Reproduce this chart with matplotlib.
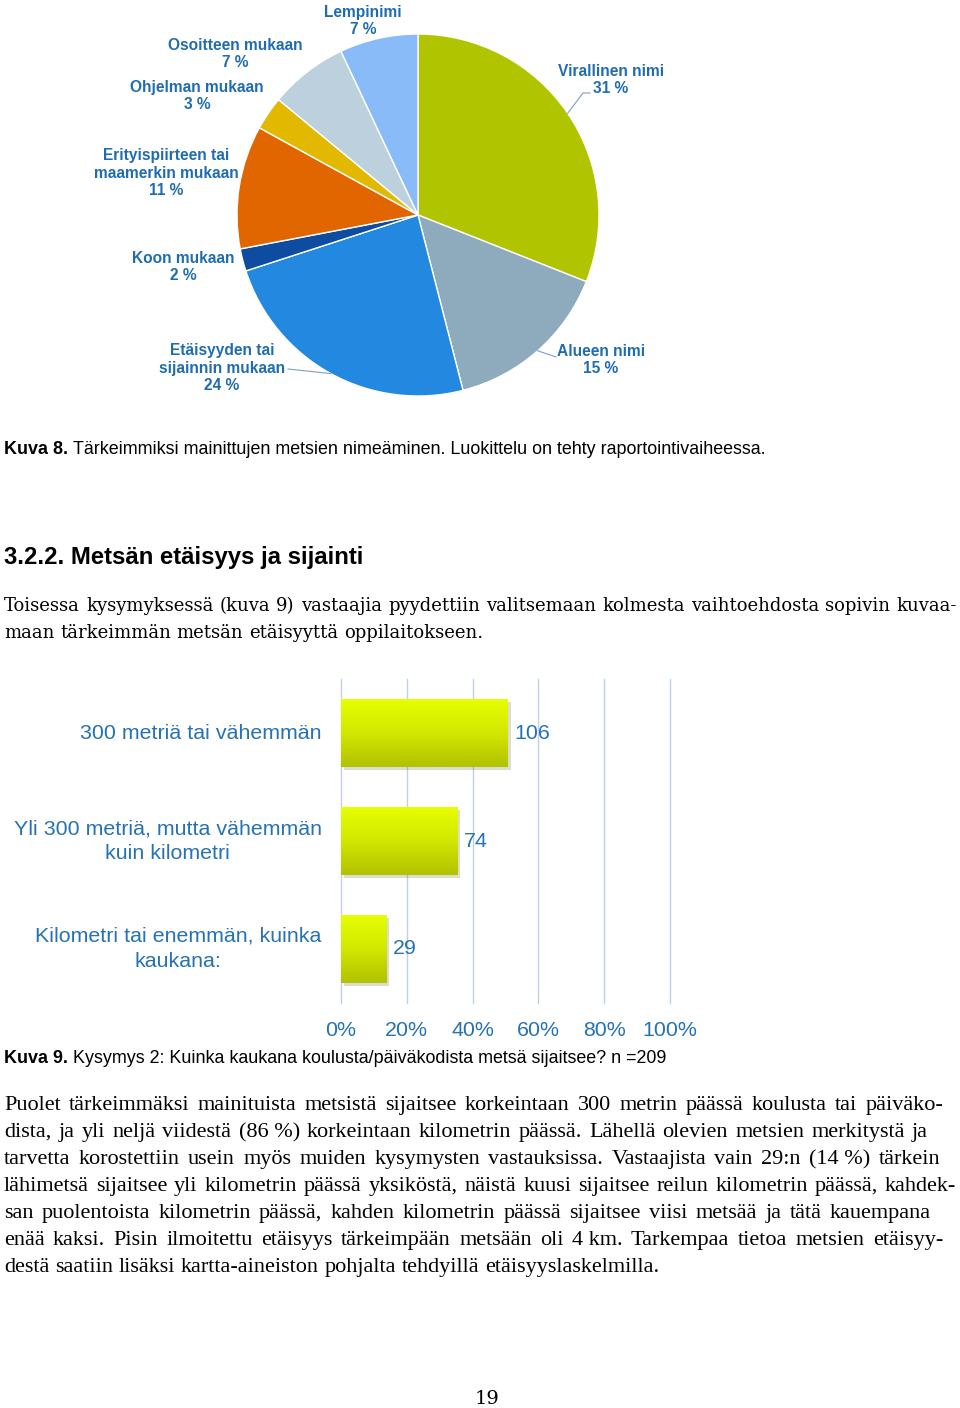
import numpy as np
import matplotlib
matplotlib.use("Agg")
import matplotlib.pyplot as plt
import matplotlib.patheffects as pe
from matplotlib.colors import LinearSegmentedColormap
from matplotlib.font_manager import FontProperties
from matplotlib.lines import Line2D

# --- data -------------------------------------------------------------
pie_labels = ["Virallinen nimi", "Alueen nimi", "Etäisyyden tai\nsijainnin mukaan",
              "Koon mukaan", "Erityispiirteen tai\nmaamerkin mukaan",
              "Ohjelman mukaan", "Osoitteen mukaan", "Lempinimi"]
pie_values = [31, 15, 24, 2, 11, 3, 7, 7]
pie_colors = ["#b1c400", "#8eaabd", "#2288e0", "#0d4ca0",
              "#e26600", "#e2b800", "#bdd0de", "#88bbf7"]

bar_categories = ["300 metriä tai vähemmän",
                  "Yli 300 metriä, mutta vähemmän\nkuin kilometri",
                  "Kilometri tai enemmän, kuinka\nkaukana:"]
bar_counts = [106, 74, 29]
n_total = 209
pct_ticks = [0, 20, 40, 60, 80, 100]

caption8 = ("Kuva 8.", "Tärkeimmiksi mainittujen metsien nimeäminen. Luokittelu on tehty raportointivaiheessa.")
caption9 = ("Kuva 9.", "Kysymys 2: Kuinka kaukana koulusta/päiväkodista metsä sijaitsee? n =209")
heading = "3.2.2. Metsän etäisyys ja sijainti"
para1 = ["Toisessa kysymyksessä (kuva 9) vastaajia pyydettiin valitsemaan kolmesta vaihtoehdosta sopivin kuvaa-",
         "maan tärkeimmän metsän etäisyyttä oppilaitokseen."]
para2 = ["Puolet tärkeimmäksi mainituista metsistä sijaitsee korkeintaan 300 metrin päässä koulusta tai päiväko-",
         "dista, ja yli neljä viidestä (86\u00a0%) korkeintaan kilometrin päässä. Lähellä olevien metsien merkitystä ja",
         "tarvetta korostettiin usein myös muiden kysymysten vastauksissa. Vastaajista vain 29:n (14\u00a0%) tärkein",
         "lähimetsä sijaitsee yli kilometrin päässä yksiköstä, näistä kuusi sijaitsee reilun kilometrin päässä, kahdek-",
         "san puolentoista kilometrin päässä, kahden kilometrin päässä sijaitsee viisi metsää ja tätä kauempana",
         "enää kaksi. Pisin ilmoitettu etäisyys tärkeimpään metsään oli 4\u00a0km.  Tarkempaa tietoa metsien etäisyy-",
         "destä saatiin lisäksi kartta-aineiston pohjalta tehdyillä etäisyyslaskelmilla."]
page_no = "19"

# --- page -------------------------------------------------------------
W, H = 960, 1408
fig = plt.figure(figsize=(W / 100, H / 100), dpi=100)
renderer = fig.canvas.get_renderer()


def fxy(x, y):
    return x / W, 1 - y / H


def add_box(x0, y0, x1, y1):
    return fig.add_axes([x0 / W, 1 - y1 / H, (x1 - x0) / W, (y1 - y0) / H])


def text_width(s, fp):
    w, _, _ = renderer.get_text_width_height_descent(s, fp, ismath=False)
    return w


def write_line(line, x0, x1, y, fp, justify=True):
    words = [w for w in line.split(" ") if w]
    widths = [text_width(w, fp) for w in words]
    if justify and len(words) > 1:
        gap = (x1 - x0 - sum(widths)) / (len(words) - 1)
    else:
        gap = text_width("a b", fp) - text_width("ab", fp)
    x = x0
    for w, wd in zip(words, widths):
        fig.text(*fxy(x, y), w, fontproperties=fp, va="baseline", ha="left", color="black")
        x += wd + gap


# --- pie chart --------------------------------------------------------
blue_lbl = "#1f6db0"
pax = add_box(237, 34, 599, 396)
wedges, _ = pax.pie(pie_values, colors=pie_colors, startangle=90, counterclock=False,
                    wedgeprops=dict(edgecolor="white", linewidth=1))
pax.set_xlim(-1, 1)
pax.set_ylim(-1, 1)
pax.set_aspect("equal")
pax.axis("off")

pie_label_pos = [(611, 80), (601, 360), (222, 368), (183, 267),
                 (166, 173), (197, 96), (235, 54), (363, 21)]
lbl_font = FontProperties(family="Liberation Sans", weight="bold", size=11.2)
for lab, val, (lx, ly) in zip(pie_labels, pie_values, pie_label_pos):
    fig.text(*fxy(lx, ly), f"{lab}\n{val} %", fontproperties=lbl_font, color=blue_lbl,
             ha="center", va="center", multialignment="center", linespacing=1.22)

# leader lines from slice mid-angle on the rim to the label
cx, cy, r = 418, 215, 181
leader_ends = {0: [(583, 93), (590, 93)], 1: [(556, 357)], 2: [(288, 369)]}
for idx, pts in leader_ends.items():
    wdg = wedges[idx]
    mid = np.deg2rad((wdg.theta1 + wdg.theta2) / 2)
    start = (cx + r * np.cos(mid), cy - r * np.sin(mid))
    xs, ys = zip(*([start] + pts))
    fig.add_artist(Line2D([x / W for x in xs], [1 - y / H for y in ys],
                          color="#7f9fbf", linewidth=0.8))

# caption 8
cap_font_b = FontProperties(family="Liberation Sans", weight="bold", size=12.9)
cap_font = FontProperties(family="Liberation Sans", size=12.9)
fig.text(*fxy(4, 454), caption8[0], fontproperties=cap_font_b, va="baseline")
x_after = 4 + text_width(caption8[0] + " ", cap_font_b)
fig.text(*fxy(x_after, 454), caption8[1], fontproperties=cap_font, va="baseline")

# heading + first paragraph
fig.text(*fxy(4, 564), heading, fontproperties=FontProperties(family="Liberation Sans",
         weight="bold", size=17.2), va="baseline")
p1_font = FontProperties(family="DejaVu Serif", size=13)
write_line(para1[0], 4, 957, 611, p1_font, justify=True)
write_line(para1[1], 4, 957, 638, p1_font, justify=False)

# --- bar chart --------------------------------------------------------
bar_blue = "#2572b4"
bax = add_box(341, 679, 670, 1003)
pcts = [c / n_total * 100 for c in bar_counts]
ypos = np.arange(len(bar_categories))
bars = bax.barh(ypos, pcts, height=0.63, color="#cde000", zorder=2)
grad_cmap = LinearSegmentedColormap.from_list("bar_grad", ["#e6ff00", "#d2e800", "#b2c200"])
grad = np.linspace(0, 1, 64).reshape(-1, 1)
for b in bars:
    b.set_path_effects([pe.SimplePatchShadow(offset=(2, -2), alpha=0.18), pe.Normal()])
    x0, y0, bw, bh = b.get_x(), b.get_y(), b.get_width(), b.get_height()
    im = bax.imshow(grad, cmap=grad_cmap, extent=(x0, x0 + bw, y0 + bh, y0),
                    aspect="auto", origin="upper", zorder=3, interpolation="bilinear")
    im.set_clip_path(b)
for y, p, c in zip(ypos, pcts, bar_counts):
    bax.annotate(str(c), (p, y), xytext=(4.5, 0), textcoords="offset points",
                 ha="left", va="center", color=bar_blue, fontsize=15.4,
                 fontfamily="Liberation Sans")

bax.set_xlim(0, 100)
bax.set_ylim(len(bar_categories) - 0.5, -0.5)
bax.set_xticks(pct_ticks)
bax.set_xticklabels([f"{t}%" for t in pct_ticks], color=bar_blue, fontsize=15.4,
                    fontfamily="Liberation Sans")
bax.set_yticks(ypos)
bax.set_yticklabels(bar_categories, color=bar_blue, fontsize=15.4, fontfamily="Liberation Sans",
                    multialignment="center", linespacing=1.4, va="center")
bax.tick_params(length=0)
bax.tick_params(axis="x", pad=13)
bax.tick_params(axis="y", pad=14)
bax.grid(axis="x", color="#bfd1e8", linewidth=1)
for gl in bax.get_xgridlines():
    gl.set_clip_on(False)
bax.set_axisbelow(True)
for s in bax.spines.values():
    s.set_visible(False)

# caption 9
cap9_b = FontProperties(family="Liberation Sans", weight="bold", size=12.9)
cap9 = FontProperties(family="Liberation Sans", size=12.9)
fig.text(*fxy(4, 1063), caption9[0], fontproperties=cap9_b, va="baseline")
x_after = 4 + text_width(caption9[0] + " ", cap9_b)
fig.text(*fxy(x_after, 1063), caption9[1], fontproperties=cap9, va="baseline")

# second paragraph
p2_font = FontProperties(family="Liberation Serif", size=16)
right_edges = [943, 928, 940, 956, 931, 943, 943]
for i, (line, xr) in enumerate(zip(para2, right_edges)):
    write_line(line, 4, xr, 1110 + 27 * i, p2_font, justify=(i < len(para2) - 1))

fig.text(*fxy(487, 1404), page_no, fontproperties=FontProperties(family="DejaVu Serif", size=14),
         ha="center", va="baseline")

fig.savefig("out.png", dpi=100, facecolor="white")
